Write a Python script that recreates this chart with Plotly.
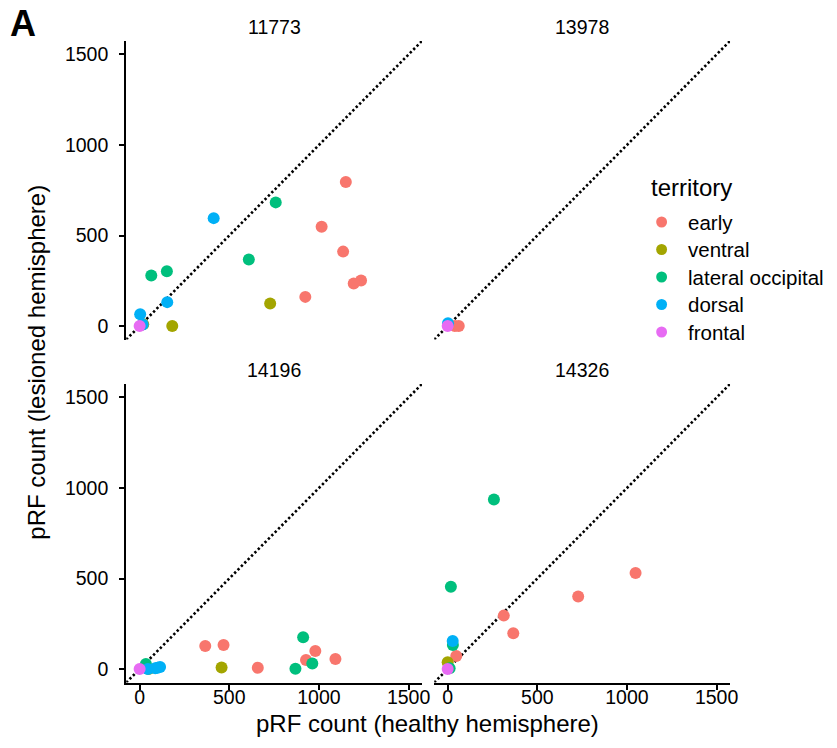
import plotly.graph_objects as go

W, H = 837, 748

subjects = ["11773", "13978", "14196", "14326"]
territories = ["early", "ventral", "lateral occipital", "dorsal", "frontal"]
colors = ["#F8766D", "#A3A500", "#00BF7D", "#00B0F6", "#E76BF3"]

# healthy (x) and lesioned (y) pRF counts per subject, per territory
s11773_x = {"early": [1150, 1015, 1135, 1235, 1194, 924],
            "ventral": [728, 182, 20],
            "lateral occipital": [759, 609, 152, 65],
            "dorsal": [413, 154, 3, 17],
            "frontal": [0]}
s11773_y = {"early": [796, 548, 411, 252, 235, 161],
            "ventral": [124, 0, 10],
            "lateral occipital": [683, 368, 302, 279],
            "dorsal": [596, 132, 65, 9],
            "frontal": [0]}

s13978_x = {"early": [40, 62], "ventral": [], "lateral occipital": [],
            "dorsal": [2], "frontal": [0]}
s13978_y = {"early": [0, 0], "ventral": [], "lateral occipital": [],
            "dorsal": [15], "frontal": [0]}

s14196_x = {"early": [366, 468, 980, 928, 1092, 659],
            "ventral": [457, 50],
            "lateral occipital": [912, 963, 869, 35],
            "dorsal": [46, 87, 100, 114],
            "frontal": [0]}
s14196_y = {"early": [127, 133, 99, 50, 55, 7],
            "ventral": [9, 0],
            "lateral occipital": [175, 31, 2, 28],
            "dorsal": [0, 4, 7, 11],
            "frontal": [0]}

s14326_x = {"early": [1048, 728, 313, 366, 48],
            "ventral": [0],
            "lateral occipital": [258, 18, 29, 11],
            "dorsal": [28],
            "frontal": [0]}
s14326_y = {"early": [530, 400, 295, 197, 72],
            "ventral": [37],
            "lateral occipital": [937, 455, 133, 4],
            "dorsal": [155],
            "frontal": [0]}

data_x = [s11773_x, s13978_x, s14196_x, s14326_x]
data_y = [s11773_y, s13978_y, s14196_y, s14326_y]

axis_limits = [-75, 1575]
tick_vals = [0, 500, 1000, 1500]

FONT = "Liberation Sans, Arial, sans-serif"

def fx(px):
    return px / W

def fy(py):
    return 1 - py / H

# panel pixel boxes in window coordinates
xdom_left = [fx(127.4), fx(426.1)]
xdom_right = [fx(438.4), fx(737.1)]
ydom_top = [fy(339.6), fy(40.9)]
ydom_bot = [fy(682.6), fy(383.9)]

panels = [
    ("x", "y", xdom_left, ydom_top),
    ("x2", "y2", xdom_right, ydom_top),
    ("x3", "y3", xdom_left, ydom_bot),
    ("x4", "y4", xdom_right, ydom_bot),
]

fig = go.Figure()

for i, (xa, ya, xd, yd) in enumerate(panels):
    fig.add_trace(go.Scatter(
        x=axis_limits, y=axis_limits, mode="lines",
        line=dict(color="black", width=2.6, dash="2.4px,2.4px"),
        showlegend=False, hoverinfo="skip", xaxis=xa, yaxis=ya))

for i, (xa, ya, xd, yd) in enumerate(panels):
    for t, c in zip(territories, colors):
        fig.add_trace(go.Scatter(
            x=data_x[i][t], y=data_y[i][t], mode="markers",
            marker=dict(color=c, size=12, line=dict(width=0)),
            name=t, showlegend=False,
            xaxis=xa, yaxis=ya))

def axis(dom, anchor, show, standoff=0):
    d = dict(domain=dom, anchor=anchor, range=axis_limits,
             showgrid=False, zeroline=False, fixedrange=True)
    if show:
        d.update(showline=True, linecolor="black", linewidth=2,
                 ticks="outside", ticklen=5, tickwidth=2, tickcolor="black",
                 tickvals=tick_vals, showticklabels=True,
                 tickfont=dict(size=19.5, color="black", family=FONT),
                 ticklabelstandoff=standoff)
    else:
        d.update(showline=False, ticks="", showticklabels=False)
    return d

fig.update_layout(
    width=W, height=H,
    margin=dict(l=0, r=0, t=0, b=0),
    paper_bgcolor="white", plot_bgcolor="white",
    font=dict(family=FONT, color="black"),
    xaxis=axis(xdom_left, "y", False),
    yaxis=axis(ydom_top, "x", True, 7),
    xaxis2=axis(xdom_right, "y2", False),
    yaxis2=axis(ydom_top, "x2", False),
    xaxis3=axis(xdom_left, "y3", True, -9),
    yaxis3=axis(ydom_bot, "x3", True, 7),
    xaxis4=axis(xdom_right, "y4", True, -9),
    yaxis4=axis(ydom_bot, "x4", False),
    showlegend=False,
)

ann = []
shapes = []
strip_pos = [(276.8, 27), (587.8, 27), (276.8, 370), (587.8, 370)]
for s, (px, py) in zip(subjects, strip_pos):
    ann.append(dict(text=s, x=fx(px), y=fy(py), xref="paper", yref="paper",
                    xanchor="center", yanchor="middle", showarrow=False,
                    font=dict(size=19.5, family=FONT, color="black")))
ann.append(dict(text="pRF count (healthy hemisphere)", x=fx(432), y=fy(723),
                xref="paper", yref="paper", xanchor="center", yanchor="middle",
                showarrow=False, font=dict(size=24, family=FONT, color="black")))
ann.append(dict(text="pRF count (lesioned hemisphere)", x=fx(37), y=fy(362),
                xref="paper", yref="paper", xanchor="center", yanchor="middle",
                textangle=-90, showarrow=False,
                font=dict(size=24, family=FONT, color="black")))
ann.append(dict(text="<b>A</b>", x=fx(23), y=fy(23), xref="paper", yref="paper",
                xanchor="center", yanchor="middle", showarrow=False,
                font=dict(size=36, family=FONT, color="black")))

# manual legend (ggplot style)
ann.append(dict(text="territory", x=fx(655), y=fy(187), xref="paper", yref="paper",
                xanchor="left", yanchor="middle", showarrow=False,
                font=dict(size=24, family=FONT, color="black")))
leg_y0, leg_dy = 222, 27.5
r = 5.5
for k, (t, c) in enumerate(zip(territories, colors)):
    py = leg_y0 + k * leg_dy
    ann.append(dict(text=t, x=fx(693), y=fy(py), xref="paper", yref="paper",
                    xanchor="left", yanchor="middle", showarrow=False,
                    font=dict(size=20.5, family=FONT, color="black")))
    shapes.append(dict(type="circle", xref="paper", yref="paper",
                       x0=fx(668 - r), x1=fx(668 + r),
                       y0=fy(py + r), y1=fy(py - r),
                       fillcolor=c, line=dict(width=0)))

fig.update_layout(annotations=ann, shapes=shapes)

fig.write_html(
    "out.html",
    config={"displayModeBar": False, "staticPlot": True},
    post_script="document.body.style.margin='0px';"
                "document.body.style.overflow='hidden';",
)
